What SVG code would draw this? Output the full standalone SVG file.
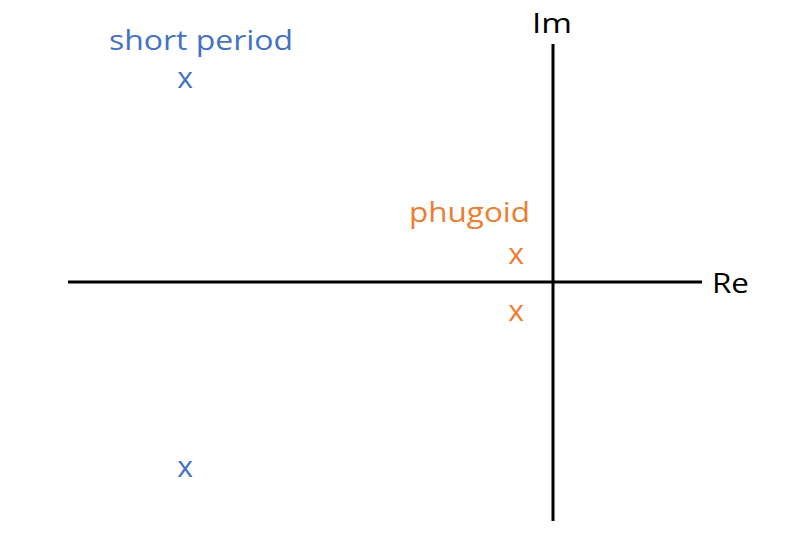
<svg xmlns="http://www.w3.org/2000/svg" width="801" height="537" viewBox="0 0 801 537">
<style>
text{font-family:"Open Sans","Noto Sans","Liberation Sans",sans-serif;font-size:27px}
.ax{stroke:#000;stroke-width:3;fill:none}
.blk{fill:#000}
.blue{fill:#4472C4}
.org{fill:#ED7D31}
.pole{font-size:30px}
</style>
<rect width="801" height="537" fill="#fff"/>
<g id="axes">
<line class="ax" x1="68" y1="282" x2="702" y2="282"/>
<line class="ax" x1="553" y1="44" x2="553" y2="521"/>
</g>
<g id="labels">
<text class="blk" x="532" y="33" textLength="40" lengthAdjust="spacingAndGlyphs">Im</text>
<text class="blk" x="712" y="293" textLength="37" lengthAdjust="spacingAndGlyphs">Re</text>
</g>
<g id="short-period">
<text class="blue" x="109" y="50" textLength="184" lengthAdjust="spacingAndGlyphs">short period</text>
<text class="blue pole" x="185" y="88" text-anchor="middle">x</text>
<text class="blue pole" x="185" y="477" text-anchor="middle">x</text>
</g>
<g id="phugoid">
<text class="org" x="409" y="222" textLength="121" lengthAdjust="spacingAndGlyphs">phugoid</text>
<text class="org pole" x="516" y="264" text-anchor="middle">x</text>
<text class="org pole" x="516" y="321" text-anchor="middle">x</text>
</g>
</svg>
